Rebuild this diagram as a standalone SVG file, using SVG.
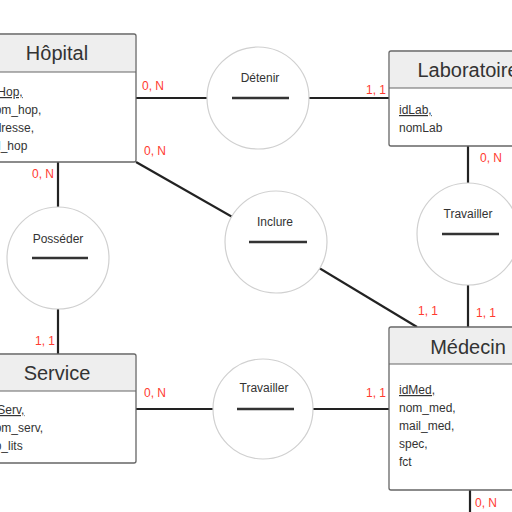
<svg xmlns="http://www.w3.org/2000/svg" width="512" height="512" viewBox="0 0 512 512">
<style>
.box{fill:#fff;stroke:#666;stroke-width:1.3}
.hdr{fill:#eeeeee;stroke:none}
.sep{stroke:#666;stroke-width:1}
.title{font-family:"Liberation Sans",Arial,sans-serif;font-size:20px;fill:#333;text-anchor:middle}
.attr{font-family:"Liberation Sans",Arial,sans-serif;font-size:12px;fill:#333}
.rel{fill:#fff;stroke:#d0d0d0;stroke-width:1.2}
.rlab{font-family:"Liberation Sans",Arial,sans-serif;font-size:12px;fill:#333;text-anchor:middle}
.bar{stroke:#333;stroke-width:2.5}
.conn{stroke:#222;stroke-width:2.2;fill:none}
.card{font-family:"Liberation Sans",Arial,sans-serif;font-size:12px;fill:#ff3b30}
.u{text-decoration:underline}
</style>
<g id="connectors">
<line class="conn" x1="136" y1="98" x2="389" y2="98"/>
<line class="conn" x1="468" y1="146" x2="468" y2="327"/>
<line class="conn" x1="58" y1="162" x2="58" y2="354"/>
<line class="conn" x1="136" y1="409" x2="389" y2="409"/>
<line class="conn" x1="136" y1="162" x2="276" y2="242"/>
<line class="conn" x1="276" y1="242" x2="417" y2="327"/>
<line class="conn" x1="470" y1="490" x2="470" y2="512"/>
</g>
<g id="hopital">
<rect class="box" x="-22" y="34" width="158" height="128" rx="2"/>
<rect class="hdr" x="-21" y="35" width="156" height="37"/>
<line class="sep" x1="-22" y1="72" x2="136" y2="72"/>
<text class="title" x="57" y="60">Hôpital</text>
<text class="attr u" x="-12" y="96">idHop,</text>
<text class="attr" x="-12" y="114">nom_hop,</text>
<text class="attr" x="-12" y="132">adresse,</text>
<text class="attr" x="-12" y="150">tel_hop</text>
</g>
<g id="laboratoire">
<rect class="box" x="389" y="51" width="158" height="95" rx="2"/>
<rect class="hdr" x="390" y="52" width="156" height="36"/>
<line class="sep" x1="389" y1="88" x2="547" y2="88"/>
<text class="title" x="468" y="77">Laboratoire</text>
<text class="attr u" x="399" y="114">idLab,</text>
<text class="attr" x="399" y="132">nomLab</text>
</g>
<g id="service">
<rect class="box" x="-22" y="354" width="158" height="109" rx="2"/>
<rect class="hdr" x="-21" y="355" width="156" height="36"/>
<line class="sep" x1="-22" y1="391" x2="136" y2="391"/>
<text class="title" x="57" y="380">Service</text>
<text class="attr u" x="-12" y="414">idServ,</text>
<text class="attr" x="-12" y="432">nom_serv,</text>
<text class="attr" x="-12" y="450">nb_lits</text>
</g>
<g id="medecin">
<rect class="box" x="389" y="327" width="158" height="163" rx="2"/>
<rect class="hdr" x="390" y="328" width="156" height="36"/>
<line class="sep" x1="389" y1="364" x2="547" y2="364"/>
<text class="title" x="468" y="354">Médecin</text>
<text class="attr u" x="399" y="394">idMed,</text>
<text class="attr" x="399" y="412">nom_med,</text>
<text class="attr" x="399" y="430">mail_med,</text>
<text class="attr" x="399" y="448">spec,</text>
<text class="attr" x="399" y="466">fct</text>
</g>
<g id="detenir">
<circle class="rel" cx="258" cy="98" r="51"/>
<text class="rlab" x="260" y="82">Détenir</text>
<line class="bar" x1="232" y1="98" x2="289" y2="98"/>
</g>
<g id="inclure">
<circle class="rel" cx="276" cy="242" r="51"/>
<text class="rlab" x="275" y="226">Inclure</text>
<line class="bar" x1="249" y1="242" x2="307" y2="242"/>
</g>
<g id="posseder">
<circle class="rel" cx="58" cy="258" r="51"/>
<text class="rlab" x="58" y="243">Posséder</text>
<line class="bar" x1="32" y1="258" x2="88" y2="258"/>
</g>
<g id="travailler-lab">
<circle class="rel" cx="468" cy="234" r="51"/>
<text class="rlab" x="468" y="218">Travailler</text>
<line class="bar" x1="442" y1="234" x2="499" y2="234"/>
</g>
<g id="travailler-serv">
<circle class="rel" cx="263" cy="409" r="50"/>
<text class="rlab" x="264" y="392">Travailler</text>
<line class="bar" x1="237" y1="409" x2="294" y2="409"/>
</g>
<g id="cardinalities">
<text class="card" x="142" y="90">0, N</text>
<text class="card" x="144" y="155">0, N</text>
<text class="card" x="32" y="178">0, N</text>
<text class="card" x="366" y="94">1, 1</text>
<text class="card" x="480" y="162">0, N</text>
<text class="card" x="35" y="345">1, 1</text>
<text class="card" x="144" y="397">0, N</text>
<text class="card" x="366" y="397">1, 1</text>
<text class="card" x="418" y="315">1, 1</text>
<text class="card" x="476" y="317">1, 1</text>
<text class="card" x="475" y="507">0, N</text>
</g>
</svg>
